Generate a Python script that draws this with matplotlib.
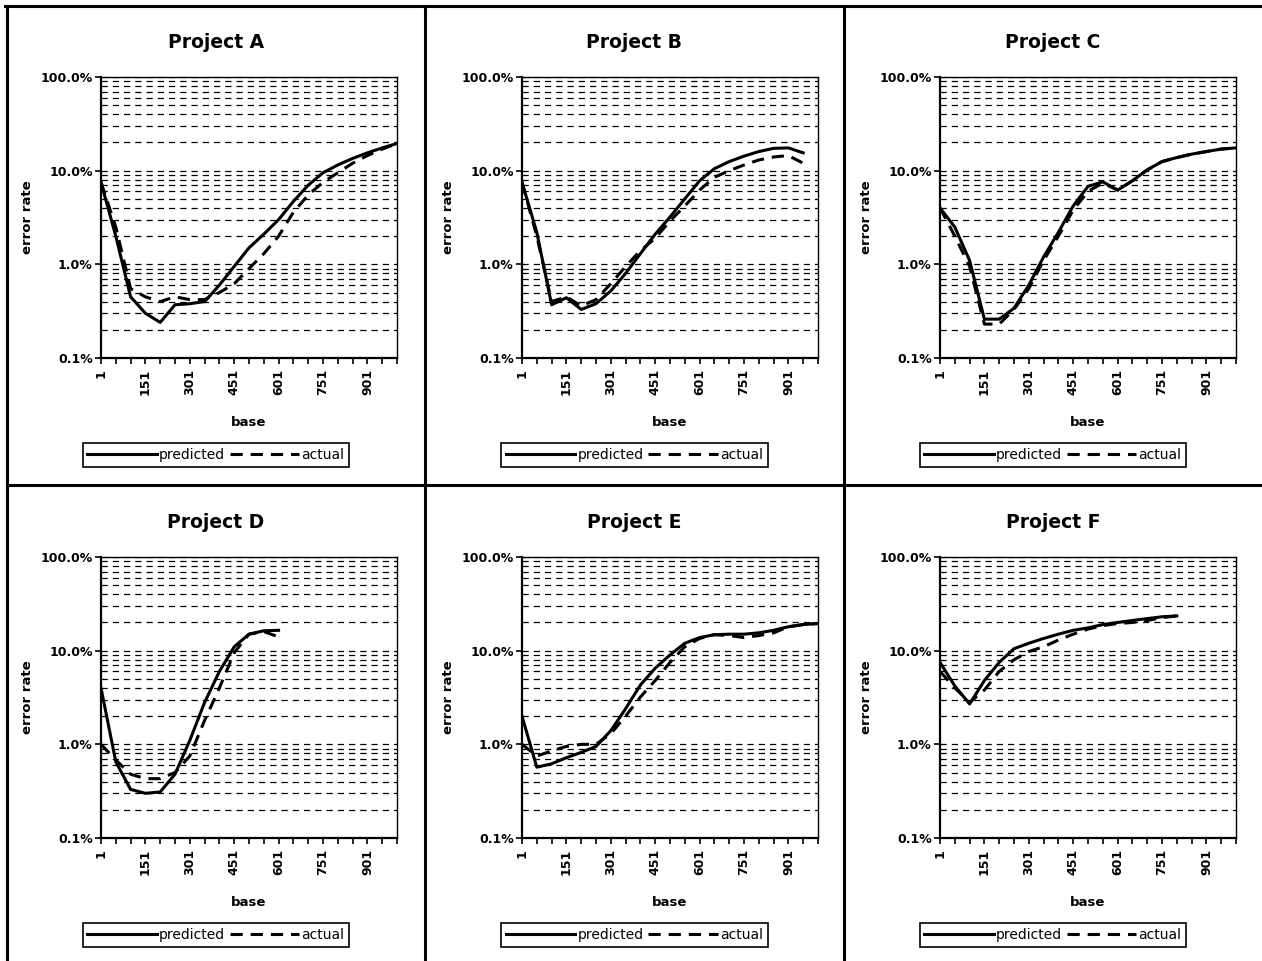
import matplotlib
matplotlib.use('Agg')
from matplotlib import pyplot as plt
from matplotlib.lines import Line2D
from matplotlib.ticker import FixedLocator, FuncFormatter, LogLocator, NullFormatter

# Data (error rate in %, sampled every 50 bases)
base = [1, 51, 101, 151, 201, 251, 301, 351, 401, 451, 501,
        551, 601, 651, 701, 751, 801, 851, 901, 951, 1001]
base_labels = [1, 151, 301, 451, 601, 751, 901]

titles = ['Project A', 'Project B', 'Project C',
          'Project D', 'Project E', 'Project F']

a_pred = [7.5, 2.0, 0.45, 0.3, 0.24, 0.37, 0.38, 0.4, 0.6, 0.95, 1.5,
          2.1, 3.0, 4.7, 7.0, 9.5, 11.5, 13.5, 15.5, 17.5, 19.5]
a_act = [7.5, 2.5, 0.55, 0.45, 0.4, 0.45, 0.42, 0.42, 0.5, 0.62, 0.9,
         1.3, 2.0, 3.6, 5.5, 7.5, 9.5, 12.0, 14.5, 17.0, 19.5]

b_pred = [7.5, 2.2, 0.37, 0.44, 0.33, 0.38, 0.52, 0.8, 1.3, 2.1, 3.2,
          5.0, 7.8, 10.5, 12.5, 14.3, 16.0, 17.3, 17.5, 15.5]
b_act = [7.5, 2.0, 0.4, 0.45, 0.36, 0.42, 0.62, 0.95, 1.4, 1.9, 2.9,
         4.2, 6.2, 8.5, 10.0, 11.5, 13.0, 14.0, 14.5, 12.0]

c_pred = [4.0, 2.5, 1.1, 0.26, 0.26, 0.34, 0.6, 1.2, 2.2, 4.2, 6.8,
          7.6, 6.2, 7.8, 10.2, 12.5, 13.8, 15.0, 16.0, 17.0, 17.5]
c_act = [4.0, 2.0, 0.95, 0.23, 0.23, 0.33, 0.55, 1.1, 2.0, 3.8, 6.0,
         7.4, 6.2, 7.8, 10.2, 12.5, 13.8, 15.0, 16.0, 17.0, 17.5]

d_pred = [4.0, 0.65, 0.33, 0.3, 0.31, 0.48, 1.1, 2.8, 6.0, 11.0, 15.0,
          16.3, 16.5]
d_act = [1.0, 0.68, 0.48, 0.43, 0.43, 0.5, 0.75, 1.8, 4.0, 9.5, 15.0,
         16.0, 14.0]

e_pred = [2.0, 0.57, 0.62, 0.72, 0.82, 0.95, 1.4, 2.4, 4.3, 6.5, 9.0,
          12.0, 13.8, 14.8, 15.0, 15.0, 15.5, 16.5, 18.0, 19.0, 19.5]
e_act = [1.0, 0.75, 0.85, 0.95, 1.0, 1.0, 1.3, 2.0, 3.2, 4.8, 7.5,
         11.0, 13.5, 14.8, 14.5, 13.8, 14.5, 15.5, 18.0, 19.0, 19.5]

f_pred = [7.5, 4.2, 2.7, 4.8, 7.5, 10.5, 12.0, 13.5, 15.0, 16.5, 17.5,
          19.0, 20.0, 21.0, 22.0, 23.0, 23.5]
f_act = [6.0, 4.0, 2.8, 3.8, 6.0, 8.0, 9.8, 11.0, 13.0, 15.0, 17.0,
         18.5, 19.5, 20.0, 21.0, 22.5, 23.5]

predicted = [a_pred, b_pred, c_pred, d_pred, e_pred, f_pred]
actual = [a_act, b_act, c_act, d_act, e_act, f_act]

W, H = 1262, 961
fig = plt.figure(figsize=(W / 100, H / 100), dpi=100)

# panel layout in pixels
panel_x = [(7, 425), (425, 844), (844, 1262)]
plot_left = [101, 522, 940]
plot_w = 296
row_top = [77, 557]
plot_h = 281
title_y = [43, 523]
legend_y = [455, 935]

dash = (4.0, 2.6)

for i in range(6):
    r, c = divmod(i, 3)
    left = plot_left[c] / W
    bottom = 1 - (row_top[r] + plot_h) / H
    ax = fig.add_axes([left, bottom, plot_w / W, plot_h / H])

    n_p = len(predicted[i])
    n_a = len(actual[i])
    ax.plot(base[:n_p], predicted[i], color='black', lw=2.2,
            solid_joinstyle='round', zorder=3)
    ax.plot(base[:n_a], actual[i], color='black', lw=2.2,
            dashes=dash, zorder=3)

    ax.set_yscale('log')
    ax.set_ylim(0.1, 100)
    ax.set_xlim(1, 1001)
    ax.yaxis.set_major_locator(LogLocator(base=10, numticks=10))
    ax.yaxis.set_minor_locator(LogLocator(base=10, subs=range(2, 10), numticks=20))
    ax.yaxis.set_major_formatter(FuncFormatter(lambda v, p: '{:.1f}%'.format(v)))
    ax.yaxis.set_minor_formatter(NullFormatter())
    ax.yaxis.grid(True, which='both', color='black', lw=0.9, ls=(0, (5, 4)))
    ax.tick_params(axis='y', which='minor', length=0)
    ax.tick_params(axis='y', which='major', length=4, width=1.2,
                   labelsize=9, pad=2)

    ax.xaxis.set_major_locator(FixedLocator(base_labels))
    ax.xaxis.set_minor_locator(FixedLocator(base))
    ax.tick_params(axis='x', which='both', length=4, width=1.2,
                   labelsize=9, labelrotation=90, pad=4)
    for lab in ax.get_xticklabels() + ax.get_yticklabels():
        lab.set_fontweight('bold')

    for side in ['left', 'bottom']:
        ax.spines[side].set_linewidth(1.6)
    for side in ['top', 'right']:
        ax.spines[side].set_linewidth(1.0)

    ax.set_ylabel('error rate', fontsize=9.5, fontweight='bold')
    ax.yaxis.set_label_coords(-0.226, 0.5)
    ax.set_xlabel('base', fontsize=9.5, fontweight='bold')
    ax.xaxis.set_label_coords(0.5, -0.205)

    cx = (panel_x[c][0] + panel_x[c][1]) / 2 / W
    fig.text(cx, 1 - title_y[r] / H, titles[i], ha='center', va='center',
             fontsize=13.5, fontweight='bold')

    handles = [Line2D([], [], color='black', lw=2.2),
               Line2D([], [], color='black', lw=2.2, dashes=dash)]
    leg = fig.legend(handles, ['predicted', 'actual'], loc='center',
                     bbox_to_anchor=(cx, 1 - legend_y[r] / H), ncol=2,
                     fancybox=False, edgecolor='black', framealpha=1,
                     fontsize=10, handlelength=5.0, handletextpad=0.15,
                     columnspacing=0.35, borderpad=0.35, borderaxespad=0)
    leg.get_frame().set_linewidth(1.2)

# panel separator lines
top = 1 - 6 / H
mid = 1 - 485 / H
lines = [((5 / W, 1), (top, top)),
         ((7 / W, 7 / W), (0, top)),
         ((425 / W, 425 / W), (0, top)),
         ((844 / W, 844 / W), (0, top)),
         ((7 / W, 1), (mid, mid))]
for xs, ys in lines:
    fig.add_artist(Line2D(xs, ys, color='black', lw=2.2,
                          transform=fig.transFigure))

fig.savefig('out.png', dpi=100, facecolor='white')
